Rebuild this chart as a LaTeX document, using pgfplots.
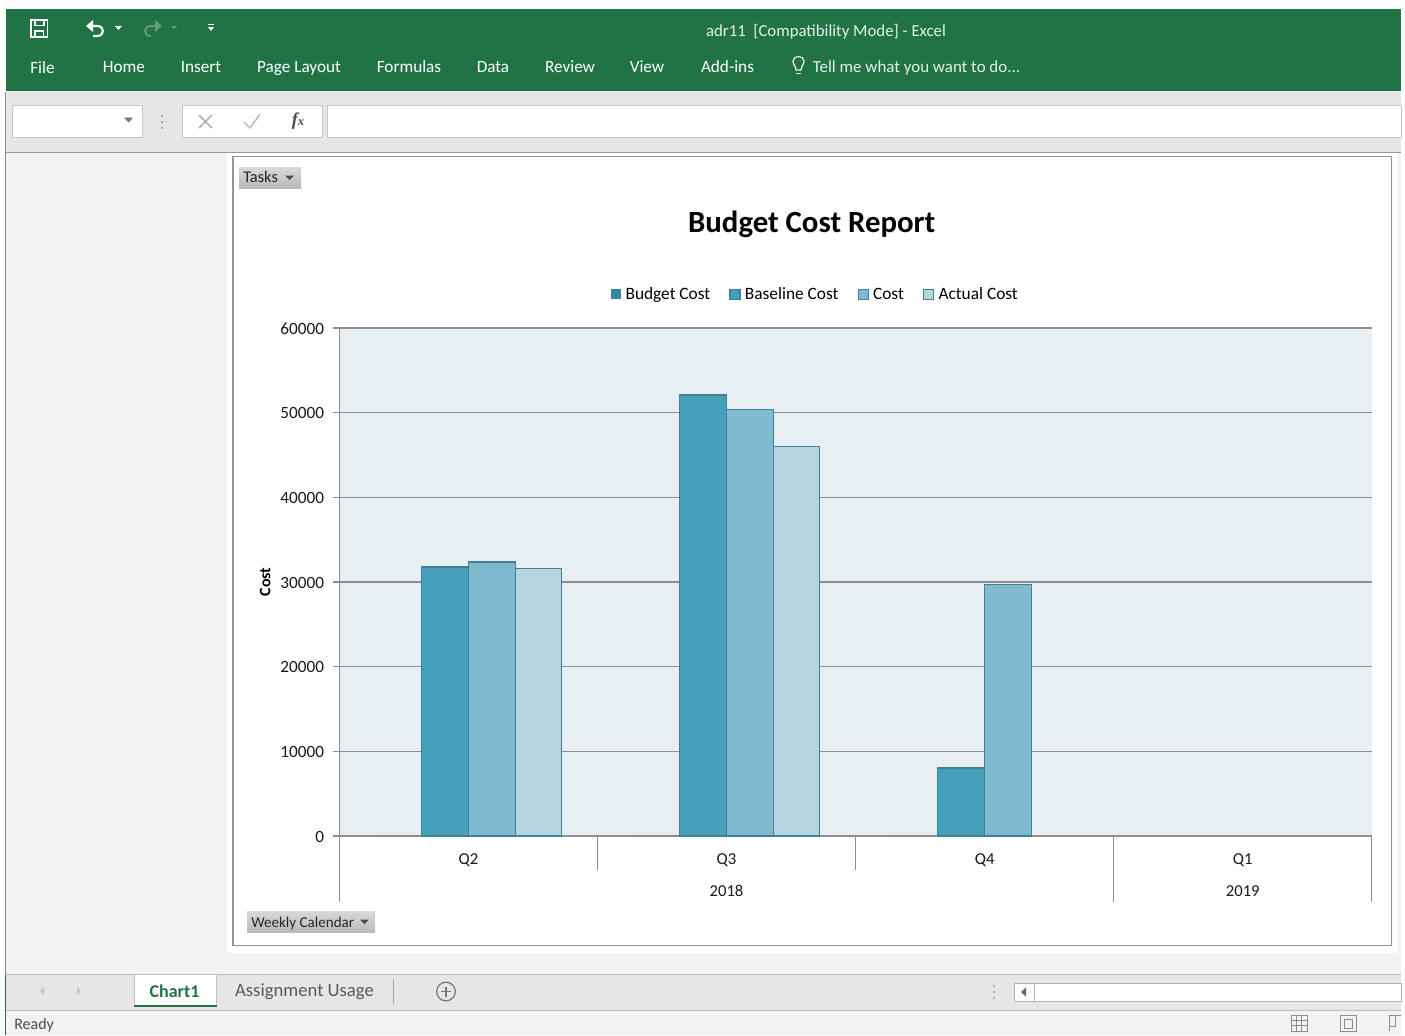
\documentclass[border=0pt]{standalone}
\usepackage{fontspec}
\setmainfont{Carlito}
\newfontfamily\serifit{Liberation Serif}
\usepackage{pgfplots}
\usepackage{pgfplotstable}
\pgfplotsset{compat=1.18}
\definecolor{xlgreen}{HTML}{217346}
\definecolor{ribbonbg}{HTML}{E6E6E6}
\definecolor{sheetbg}{HTML}{F3F3F3}
\definecolor{plotbg}{HTML}{E8EFF3}
\definecolor{gridc}{HTML}{8E8E8E}
\definecolor{edgec}{HTML}{3F8197}
\definecolor{budget}{HTML}{37879F}
\definecolor{baseline}{HTML}{45A0BA}
\definecolor{cost}{HTML}{7FBAD0}
\definecolor{actual}{HTML}{B5D4E0}
\definecolor{ribbontxt}{HTML}{E4F0E9}
\newcommand\fs[1]{\fontsize{#1}{#1}\selectfont}
\pgfplotstableread{
x  v
0.5 0
1.5 0
2.5 0
}\tblBudget
\pgfplotstableread{
x  v
0.5 31770
1.5 52090
2.5 8030
}\tblBaseline
\pgfplotstableread{
x  v
0.5 32360
1.5 50430
2.5 29760
}\tblCost
\pgfplotstableread{
x  v
0.5 31600
1.5 46060
}\tblActual
\begin{document}
\begin{tikzpicture}[x=0.75pt,y=-0.75pt]
\path[use as bounding box,fill=white] (0,0) rectangle (1405,1035);
\coordinate (plotorigin) at (339.3,836);
% window chrome
\fill[sheetbg] (6,92) rectangle (1401,1035);
\fill[xlgreen] (6,9) rectangle (1401,91);
\fill[ribbonbg] (6,91) rectangle (1401,152);
\draw[black!40,line width=0.75pt] (6,152) -- (1401,152);
\draw[black!45,line width=0.75pt] (5.5,92) -- (5.5,975);
\fill[white,draw=black!22,line width=0.75pt] (12,105) rectangle (142,137);
\fill[white,draw=black!22,line width=0.75pt] (182,105) rectangle (322,137);
\fill[white,draw=black!22,line width=0.75pt] (327,105) rectangle (1401,137);
\fill[black!55] (124,117.5) -- (133,117.5) -- (128.5,122.5) -- cycle;
\foreach \yy in {115,121,127}{\fill[black!35] (161,\yy) rectangle (163,\yy+2);}
\draw[black!30,line width=1.2pt] (199,115) -- (212,128) (199,128) -- (212,115);
\draw[black!25,line width=1.2pt] (244,122) -- (250,128) -- (260,114);
\node[text=black!70] at (298,121) {\serifit\bfseries\itshape\fs{13.5}f\fs{9.5}x};
% top icons
\draw[white,line width=1.4pt] (31,20) rectangle (47.5,37);
\fill[white] (34,20) rectangle (44.5,26);\fill[xlgreen] (35.5,21) rectangle (43,24.5);
\draw[white,line width=1pt] (35,37) -- (35,31) -- (43.5,31) -- (43.5,37);
\draw[white,line width=1.6pt] (88,26) -- (97,26) .. controls (105,26) and (105,36) .. (97,36) -- (93,36);
\fill[white] (86,26) -- (93,20) -- (93,32) -- cycle;
\fill[white] (115,26) -- (122,26) -- (118.5,30) -- cycle;
\draw[white!30!xlgreen,line width=1.4pt] (160,26) -- (151,26) .. controls (143,26) and (143,36) .. (151,36);
\fill[white!30!xlgreen] (162,26) -- (155,20) -- (155,32) -- cycle;
\fill[white!30!xlgreen] (171,26) -- (177,26) -- (174,29) -- cycle;
\draw[white,line width=0.75pt] (208,24.5) -- (214,24.5);
\fill[white] (208,27) -- (214,27) -- (211,31) -- cycle;
% ribbon text
\node[text=ribbontxt,font=\fs{12.6}] at (826,31.5) {adr11\hspace{0.45em}[Compatibility Mode] - Excel};
\begin{scope}[every node/.style={text=white,anchor=base,font=\fs{12.9}}]
\node at (42.5,73) {File};
\node at (124,72.5) {Home};
\node at (201,72.5) {Insert};
\node at (299,72.5) {Page Layout};
\node at (409,72.5) {Formulas};
\node at (493,72.5) {Data};
\node at (570,72.5) {Review};
\node at (647,72.5) {View};
\node at (727.5,72.5) {Add-ins};
\node[text=ribbontxt] at (916.5,72.5) {\fs{12.7}Tell me what you want to do...};
\end{scope}
\draw[ribbontxt,line width=0.9pt] (796,70) .. controls (796,66) and (793,65) .. (793,61) .. controls (793,55) and (804,55) .. (804,61) .. controls (804,65) and (801,66) .. (801,70) -- cycle;
\draw[ribbontxt,line width=0.9pt] (796,73.5) -- (801,73.5);
% chart frame
\fill[white] (227,153) rectangle (1398,953);
\draw[black!42,line width=0.9pt,fill=white] (233,156.5) rectangle (1391.5,945.5);
% field buttons
\shade[top color=black!15,bottom color=black!27] (239,167) rectangle (301,188);
\node[anchor=base west,inner sep=0pt,text=black!85,font=\fs{12.3}] at (243,182.5) {Tasks};
\fill[black!70] (285,175.5) -- (294,175.5) -- (289.5,180) -- cycle;
\shade[top color=black!15,bottom color=black!27] (247,911) rectangle (375,932);
\node[anchor=base west,inner sep=0pt,text=black!85,font=\fs{11.3}] at (251,927) {Weekly Calendar};
\fill[black!70] (360,919.5) -- (369,919.5) -- (364.5,924) -- cycle;
% plot
\begin{axis}[
  at={(plotorigin)},anchor=south west,
  scale only axis,width=774.4pt,height=381pt,
  xmin=0,xmax=4,ymin=0,ymax=60000,
  clip=false,
  axis lines=left,
  axis line style={-,draw=gridc,line width=0.9pt},
  axis background/.style={fill=plotbg},
  ymajorgrids,
  grid style={draw=gridc,line width=0.8pt},
  ytick={0,10000,...,60000},
  scaled y ticks=false,
  xtick={0.5,1.5,2.5,3.5},
  xticklabels={Q2,Q3,Q4,Q1},
  major x tick style={draw=none},
  tick style={draw=gridc,line width=0.8pt},
  tick align=outside,
  major tick length=4.5pt,
  /pgf/number format/assume math mode=true,
  /pgf/number format/1000 sep={},
  ticklabel style={text=black!90},
  yticklabel style={font=\fs{12.9},inner sep=0pt,xshift=-6.75pt,yshift=-0.4pt},
  xticklabel style={font=\fs{12.5},inner sep=0pt,yshift=-8.5pt},
  every axis y label/.style={at={(axis description cs:-0.0717,0.5)},rotate=90,anchor=center,font=\bfseries\fs{12}},
  ylabel={Cost},
  title={Budget Cost Report},
  title style={at={(axis description cs:0.4575,1.189)},anchor=center,font=\bfseries\fs{23.1},inner sep=0pt},
  ybar=0pt,
  bar width=0.181,
  legend columns=4,
  legend style={at={(axis description cs:0.4615,1.066)},anchor=center,draw=none,fill=none,
    font=\fs{13},inner sep=0pt,
    /tikz/every odd column/.append style={column sep=1.3pt},
    /tikz/every even column/.append style={column sep=12.4pt}},
  legend image code/.code={\path[#1,fill opacity=1] (0pt,-3.75pt) rectangle (7.5pt,3.75pt);},
]
\addplot[draw=none,fill=budget] table[x=x,y=v] {\tblBudget};
\addlegendentry{Budget Cost}
\addplot[draw=edgec,line width=0.8pt,fill=baseline] table[x=x,y=v] {\tblBaseline};
\addlegendentry{Baseline Cost}
\addplot[draw=edgec,line width=0.8pt,fill=cost] table[x=x,y=v] {\tblCost};
\addlegendentry{Cost}
\addplot[draw=edgec,line width=0.8pt,fill=actual] table[x=x,y=v] {\tblActual};
\addlegendentry{Actual Cost}
% multi-level category axis
\draw[gridc,line width=0.8pt] (axis cs:1,0) -- ++(0pt,-25.5pt);
\draw[gridc,line width=0.8pt] (axis cs:2,0) -- ++(0pt,-25.5pt);
\draw[gridc,line width=0.8pt] (axis cs:0,0) -- ++(0pt,-49.5pt);
\draw[gridc,line width=0.8pt] (axis cs:3,0) -- ++(0pt,-49.5pt);
\draw[gridc,line width=0.8pt] (axis cs:4,0) -- ++(0pt,-49.5pt);
\node[font=\fs{12.5},text=black!90] at (axis cs:1.5,-6500) {2018};
\node[font=\fs{12.5},text=black!90] at (axis cs:3.5,-6500) {2019};
\end{axis}
% bottom bars
\fill[ribbonbg] (6,974) rectangle (1401,1010);
\draw[black!25,line width=0.75pt] (6,974) -- (1401,974);
\draw[black!25,line width=0.75pt] (6,1010) -- (1401,1010);
\fill[sheetbg] (6,1010.5) rectangle (1401,1035);
\draw[xlgreen,line width=0.75pt] (5.5,975) -- (5.5,1035);
\fill[white] (134,974) rectangle (216,1005);
\draw[black!25,line width=0.75pt] (134,1005) -- (134,974) -- (216,974) -- (216,1005);
\fill[xlgreen] (134,1004.5) rectangle (216.5,1006.5);
\node[text=xlgreen,font=\bfseries\fs{13.5}] at (174.5,991) {Chart1};
\node[text=black!65,font=\fs{14}] at (304.5,991.5) {Assignment Usage};
\draw[black!35,line width=0.75pt] (393,979) -- (393,1004);
\draw[black!55,line width=0.9pt] (446,991.5) circle[radius=7pt];
\draw[black!55,line width=1.1pt] (441,991.5) -- (451,991.5) (446,986.5) -- (446,996.5);
\fill[black!22] (44,987) -- (40,991) -- (44,995) -- cycle;
\fill[black!22] (77,987) -- (81,991) -- (77,995) -- cycle;
\node[anchor=base west,inner sep=0pt,text=black!70,font=\fs{12}] at (14,1029) {Ready};
\foreach \yy in {985,991,997}{\fill[black!30] (992.5,\yy) rectangle (995,\yy+2);}
\fill[white,draw=black!30,line width=0.75pt] (1014,983) rectangle (1401,1001);
\draw[black!30,line width=0.75pt] (1034,983) -- (1034,1001);
\fill[black!60] (1026,987.5) -- (1021,992) -- (1026,996.5) -- cycle;
\draw[black!45,line width=0.7pt] (1291,1015.5) rectangle (1307,1031);
\foreach \a in {1296,1301}{\draw[black!45,line width=0.6pt] (\a,1015.5) -- (\a,1031);}
\foreach \a in {1020.5,1025.5}{\draw[black!45,line width=0.6pt] (1291,\a) -- (1307,\a);}
\draw[black!45,line width=0.7pt] (1340,1015.5) rectangle (1356,1031);
\draw[black!45,line width=0.7pt] (1344,1019) rectangle (1352,1028);
\draw[black!45,line width=0.7pt] (1389,1031) -- (1389,1015.5) -- (1401,1015.5);
\draw[black!45,line width=0.7pt] (1389,1026) -- (1395,1026) -- (1395,1015.5);
\end{tikzpicture}
\end{document}
